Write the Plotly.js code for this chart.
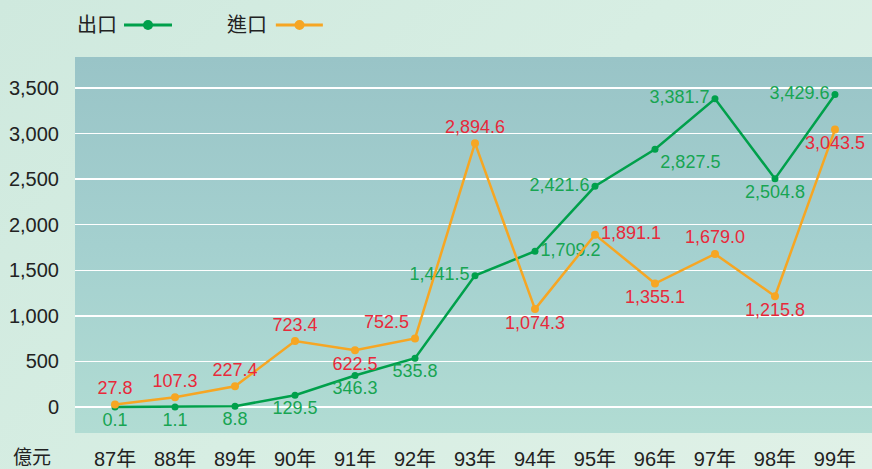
<!DOCTYPE html>
<html>
<head>
<meta charset="utf-8">
<script src="https://cdn.plot.ly/plotly-3.0.1.min.js"></script>
<style>
  html, body { margin: 0; padding: 0; width: 872px; height: 469px; overflow: hidden; }
  body { background: linear-gradient(135deg, #cfe9de 0%, #d7eee3 50%, #e0f1e7 100%); position: relative; }
  #plotbg { position: absolute; left: 75px; top: 57px; width: 797px; height: 376px;
            background: linear-gradient(180deg, #99c4c7 0%, #a4d0cf 50%, #b1dcd3 100%); }
  #chart { position: absolute; left: 0; top: 0; width: 872px; height: 469px; }
</style>
</head>
<body>
<div id="plotbg"></div>
<div id="chart"></div>
<script>
const categories = ['87年','88年','89年','90年','91年','92年','93年','94年','95年','96年','97年','98年','99年'];
const exportValues = [0.1, 1.1, 8.8, 129.5, 346.3, 535.8, 1441.5, 1709.2, 2421.6, 2827.5, 3381.7, 2504.8, 3429.6];
const importValues = [27.8, 107.3, 227.4, 723.4, 622.5, 752.5, 2894.6, 1074.3, 1891.1, 1355.1, 1679.0, 1215.8, 3043.5];
const yTickValues = [0, 500, 1000, 1500, 2000, 2500, 3000, 3500];
const seriesNames = ['出口', '進口'];

const exportTextPos = ['bottom center','bottom center','bottom center','bottom center','bottom center','bottom center',
  'middle left','middle right','middle left','bottom right','middle left','bottom center','middle left'];
const importTextPos = ['top center','top center','top center','top center','bottom center','top left',
  'top center','bottom center','middle right','bottom center','top center','bottom center','bottom center'];

const GREEN = '#00a04b';
const ORANGE = '#f6a623';
const FONT = 'Liberation Sans, Arial, Noto Sans CJK TC, sans-serif';

const traces = [
  { x: categories, y: exportValues, name: seriesNames[0], type: 'scatter', mode: 'lines+markers+text',
    line: { color: GREEN, width: 2.5 }, marker: { color: GREEN, size: 7 },
    texttemplate: '%{y:,.1f}', textposition: exportTextPos,
    textfont: { color: '#17a552', size: 18, family: FONT }, cliponaxis: false, hoverinfo: 'none' },
  { x: categories, y: importValues, name: seriesNames[1], type: 'scatter', mode: 'lines+markers+text',
    line: { color: ORANGE, width: 2.5 }, marker: { color: ORANGE, size: 8 },
    texttemplate: '%{y:,.1f}', textposition: importTextPos,
    textfont: { color: '#e8293a', size: 18, family: FONT }, cliponaxis: false, hoverinfo: 'none' }
];

const layout = {
  width: 872, height: 469,
  margin: { l: 75, r: 0, t: 57, b: 36, pad: 0 },
  paper_bgcolor: 'rgba(0,0,0,0)', plot_bgcolor: 'rgba(0,0,0,0)',
  showlegend: false,
  font: { family: FONT, color: '#222', size: 20 },
  xaxis: { type: 'category', range: [-0.667, 12.617], showgrid: false, zeroline: false, showline: false,
    ticks: '', ticklabelstandoff: 12, tickfont: { size: 20, color: '#222' }, fixedrange: true },
  yaxis: { range: [-285, 3840], tickvals: yTickValues, tickformat: ',d', showgrid: true,
    gridcolor: '#ffffff', gridwidth: 1.5, zeroline: true, zerolinecolor: '#ffffff', zerolinewidth: 1.5,
    showline: false, ticks: '', ticklabelstandoff: 15, tickfont: { size: 20, color: '#222' }, fixedrange: true },
  annotations: [
    { text: '億元', xref: 'paper', yref: 'paper', x: -0.054, y: -0.066, xanchor: 'center', yanchor: 'middle',
      showarrow: false, font: { size: 19, color: '#222', family: FONT } },
    { text: seriesNames[0], xref: 'paper', yref: 'paper', x: 0.0, y: 1.085, xanchor: 'left', yanchor: 'middle',
      showarrow: false, font: { size: 20, color: '#222', family: FONT } },
    { text: seriesNames[1], xref: 'paper', yref: 'paper', x: 0.188, y: 1.085, xanchor: 'left', yanchor: 'middle',
      showarrow: false, font: { size: 20, color: '#222', family: FONT } }
  ],
  shapes: [
    { type: 'line', xref: 'paper', yref: 'paper', x0: 0.0615, x1: 0.1217, y0: 1.085, y1: 1.085,
      line: { color: GREEN, width: 3 } },
    { type: 'circle', xref: 'paper', yref: 'paper', x0: 0.0853, x1: 0.0979, y0: 1.0717, y1: 1.0983,
      fillcolor: GREEN, line: { color: GREEN, width: 0 } },
    { type: 'line', xref: 'paper', yref: 'paper', x0: 0.252, x1: 0.311, y0: 1.085, y1: 1.085,
      line: { color: ORANGE, width: 3 } },
    { type: 'circle', xref: 'paper', yref: 'paper', x0: 0.2754, x1: 0.288, y0: 1.0717, y1: 1.0983,
      fillcolor: ORANGE, line: { color: ORANGE, width: 0 } }
  ]
};

Plotly.newPlot('chart', traces, layout, { displayModeBar: false, staticPlot: true });
</script>
</body>
</html>
